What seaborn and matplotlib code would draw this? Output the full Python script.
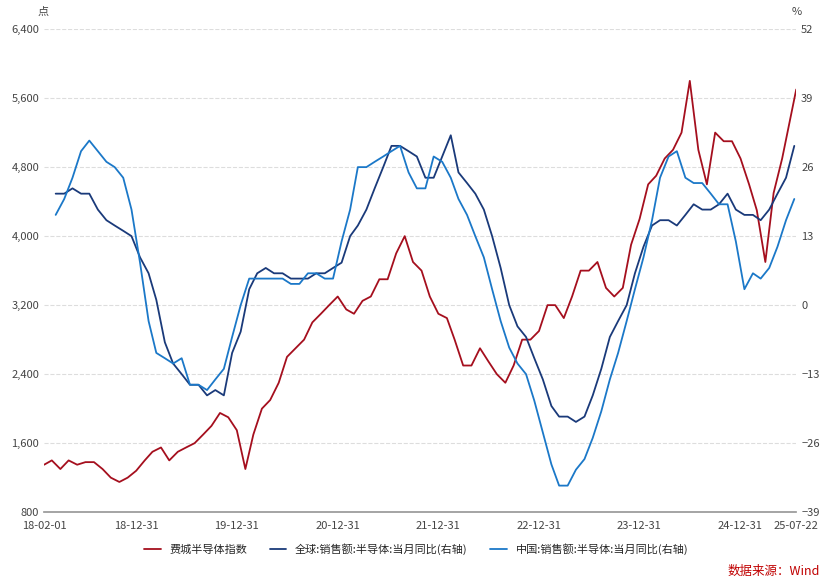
import matplotlib
matplotlib.use("Agg")
import matplotlib.pyplot as plt
import matplotlib.dates as mdates
import seaborn as sns
import pandas as pd

sns.set_theme(style="white")
plt.rcParams['font.family'] = ['Noto Sans CJK SC', 'DejaVu Sans']

idx_vals = [1350,1400,1300,1400,1350,1380,1380,1300,1200,1150,1200,
            1280,1400,1500,1550,1400,1500,1550,1600,1700,1800,1950,1900,
            1750,1300,1700,2000,2100,2300,2600,2700,2800,3000,3100,3200,
            3300,3150,3100,3250,3300,3500,3500,3800,4000,3700,3600,3300,
            3100,3050,2800,2500,2500,2700,2550,2400,2300,2500,2800,2800,
            2900,3200,3200,3050,3300,3600,3600,3700,3400,3300,3400,3900,
            4200,4600,4700,4900,5000,5200,5800,5000,4600,5200,5100,5100,
            4900,4600,4300,3700,4500,4900,5700]
idx_dates = list(pd.date_range("2018-02-01", periods=len(idx_vals)-1, freq="MS")) + [pd.Timestamp("2025-07-22")]

glob_vals = [21,21,22,21,21,18,16,15,14,13,9,
             6,1,-7,-11,-13,-15,-15,-17,-16,-17,-9,-5,
             3,6,7,6,6,5,5,5,6,6,7,8,
             13,15,18,22,26,30,30,29,28,24,24,28,
             32,25,23,21,18,13,7,0,-4,-6,-10,-14,
             -19,-21,-21,-22,-21,-17,-12,-6,-3,0,6,11,
             15,16,16,15,17,19,18,18,19,21,18,17,
             17,16,18,21,24,30]
china_vals = [17,20,24,29,31,29,27,26,24,18,8,
              -3,-9,-10,-11,-10,-15,-15,-16,-14,-12,-6,0,
              5,5,5,5,5,4,4,6,6,5,5,12,
              18,26,26,27,28,29,30,25,22,22,28,27,
              24,20,17,13,9,3,-3,-8,-11,-13,-18,-24,
              -30,-34,-34,-31,-29,-25,-20,-14,-9,-3,3,9,
              16,24,28,29,24,23,23,21,19,19,12,3,
              6,5,7,11,16,20]
pct_dates = pd.date_range("2018-02-15", periods=len(glob_vals), freq="MS") + pd.Timedelta(days=14)

fig, ax = plt.subplots(figsize=(8.32, 5.82), dpi=100)
ax2 = ax.twinx()
red, navy, blue = "#A50F1E", "#1A3A7A", "#1B78C8"
sns.lineplot(x=idx_dates, y=idx_vals, ax=ax, color=red, lw=1.3, label="费城半导体指数", legend=False)
sns.lineplot(x=pct_dates, y=glob_vals, ax=ax2, color=navy, lw=1.3, label="全球:销售额:半导体:当月同比(右轴)", legend=False)
sns.lineplot(x=pct_dates[:len(china_vals)], y=china_vals, ax=ax2, color=blue, lw=1.3, label="中国:销售额:半导体:当月同比(右轴)", legend=False)

ax.set_ylim(800, 6400)
ax.set_yticks(range(800, 6401, 800))
ax.set_yticklabels([f"{v:,}" for v in range(800, 6401, 800)])
ax2.set_ylim(-39, 52)
ax2.set_yticks(range(-39, 53, 13))
ax.grid(axis='y', ls='--', color='#dddddd', lw=0.8)
ax.set_xlim(pd.Timestamp("2018-02-01"), pd.Timestamp("2025-07-22"))
ticks = [pd.Timestamp(t) for t in ["2018-02-01","2018-12-31","2019-12-31","2020-12-31","2021-12-31","2022-12-31","2023-12-31","2024-12-31","2025-07-22"]]
ax.set_xticks(ticks)
ax.set_xticklabels([t.strftime("%y-%m-%d") for t in ticks])
for a in (ax, ax2):
    for s in a.spines.values():
        s.set_visible(False)
    a.tick_params(labelsize=8, colors='#444444', length=0)
ax.spines['bottom'].set_visible(True); ax.spines['bottom'].set_color('#999999')
ax.tick_params(axis='x', length=3, color='#999999')
ax.set_xlabel(""); ax.set_ylabel(""); ax2.set_ylabel("")

fig.subplots_adjust(left=0.053, right=0.957, top=0.95, bottom=0.12)
fig.text(0.045, 0.975, "点", fontsize=8, color='#444444')
fig.text(0.952, 0.975, "%", fontsize=8, color='#444444')
h1, l1 = ax.get_legend_handles_labels()
h2, l2 = ax2.get_legend_handles_labels()
fig.legend(h1+h2, l1+l2, loc='lower center', bbox_to_anchor=(0.5, 0.03), ncol=3, frameon=False, fontsize=8, handlelength=1.5)
fig.text(0.985, 0.012, "数据来源：Wind", fontsize=9, color='#C00000', ha='right')
fig.savefig("out.png", dpi=100)
